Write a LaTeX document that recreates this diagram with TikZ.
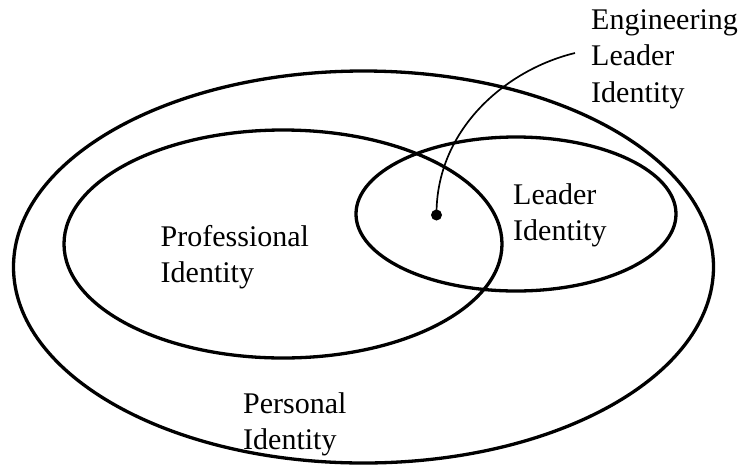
\documentclass[tikz,border=0pt]{standalone}
\usepackage{fontspec}
\setmainfont{Liberation Serif}
\tikzset{
  ring/.style={draw=black, line width=3.3pt},
  lbl/.style={inner sep=0pt, anchor=base west, font=\fontsize{30}{36.5}\selectfont},
  lead/.style={draw=black, line width=1.7pt},
  dotmark/.style={circle, fill=black, inner sep=0pt, minimum size=11pt}
}
\newcommand{\twolines}[2]{\begin{tabular}[t]{@{}l@{}}#1\\#2\end{tabular}}
\begin{document}
\begin{tikzpicture}[x=1pt,y=-1pt]
\useasboundingbox (0,0) rectangle (748,467);
% ellipses
\draw[ring] (363.5,267) ellipse [x radius=350pt, y radius=196pt];
\draw[ring] (283,244) ellipse [x radius=219pt, y radius=114pt];
\draw[ring] (516,214) ellipse [x radius=160pt, y radius=77pt];
% labels
\node[lbl] (prof) at (160.5,246) {\twolines{Professional}{Identity}};
\node[lbl] (lead) at (513,204) {\twolines{Leader}{Identity}};
\node[lbl] (pers) at (243,413) {\twolines{Personal}{Identity}};
\node[lbl] (eng) at (591,29) {\begin{tabular}[t]{@{}l@{}}Engineering\\Leader\\Identity\end{tabular}};
% dot and connector
\node[dotmark] (dot) at (436.5,215) {};
\coordinate (engend) at (575,53);
\draw[lead] (dot.center) .. controls (436,130) and (505,70) .. (engend);
\end{tikzpicture}
\end{document}
